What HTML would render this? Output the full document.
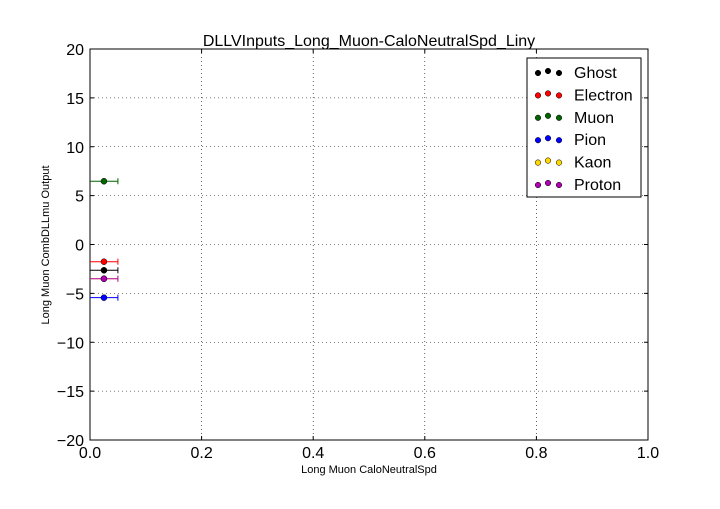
<!DOCTYPE html>
<html><head><meta charset="utf-8"><style>
body{margin:0;background:#fff;width:720px;height:504px;overflow:hidden}
svg{font-family:"Liberation Sans","DejaVu Sans",sans-serif}
</style></head><body>
<svg id="chart" width="720" height="504"></svg>
<script>
const series = ["Ghost","Electron","Muon","Pion","Kaon","Proton"];
const colors = ["#000000","#ff0000","#006400","#0000ff","#ffd700","#b000b0"];
const xValues = [0.025,0.025,0.025,0.025,0.025,0.025];
const xErr = [0.025,0.025,0.025,0.025,0.025,0.025];
const yValues = [-2.64,-1.76,6.47,-5.44,-3.5,-3.5];
const xTicks = [0,0.2,0.4,0.6,0.8,1.0];
const xTickLabels = ["0.0","0.2","0.4","0.6","0.8","1.0"];
const yTicks = [-20,-15,-10,-5,0,5,10,15,20];
const yTickLabels = ["\u221220","\u221215","\u221210","\u22125","0","5","10","15","20"];

const NS="http://www.w3.org/2000/svg";
const svg=document.getElementById('chart');
const L=90,R=648,T=49,B=440;
const xs=v=>L+(v-0)/(1-0)*(R-L);
const ys=v=>B-(v+20)/40*(B-T);
function mk(tag,attrs,parent){const e=document.createElementNS(NS,tag);for(const k in attrs)e.setAttribute(k,attrs[k]);(parent||svg).appendChild(e);return e;}

const grid=mk('g',{});


xTicks.forEach((t,i)=>{
  const x=xs(t);
  mk('line',{x1:x,x2:x,y1:T,y2:B,stroke:'#000','stroke-dasharray':'1,3','stroke-width':0.6},grid);
  mk('line',{x1:x,x2:x,y1:B,y2:B-4,stroke:'#000'},grid);
  mk('line',{x1:x,x2:x,y1:T,y2:T+4,stroke:'#000'},grid);
  const tx=mk('text',{x:x,y:B+18,'text-anchor':'middle','font-size':16});
  tx.textContent=xTickLabels[i];
  
  
});
yTicks.forEach((t,i)=>{
  const y=ys(t);
  mk('line',{x1:L,x2:R,y1:y,y2:y,stroke:'#000','stroke-dasharray':'1,3','stroke-width':0.6},grid);
  mk('line',{x1:L,x2:L+4,y1:y,y2:y,stroke:'#000'},grid);
  mk('line',{x1:R,x2:R-4,y1:y,y2:y,stroke:'#000'},grid);
  const tx=mk('text',{x:L-6,y:y+6,'text-anchor':'end','font-size':16});
  tx.textContent=yTickLabels[i];
  
  
});
const frame=mk('rect',{x:L,y:T,width:R-L,height:B-T,fill:'none',stroke:'#000'});



series.forEach((s,i)=>{
  const g=mk('g',{});
  
  
  const x=xs(xValues[i]),y=ys(yValues[i]);
  const x0=xs(xValues[i]-xErr[i]),x1=xs(xValues[i]+xErr[i]);
  mk('line',{x1:x0,x2:x1,y1:y,y2:y,stroke:colors[i]},g);
  mk('line',{x1:x1,x2:x1,y1:y-3,y2:y+3,stroke:colors[i]},g);
  mk('circle',{cx:x,cy:y,r:3,fill:colors[i],stroke:'#000','stroke-width':0.5},g);
});

const title=mk('text',{x:369,y:46,'text-anchor':'middle','font-size':16});
title.textContent='DLLVInputs_Long_Muon-CaloNeutralSpd_Liny';


const xl=mk('text',{x:369,y:473,'text-anchor':'middle','font-size':11});
xl.textContent='Long Muon CaloNeutralSpd';


const yl=mk('text',{x:49,y:245,'text-anchor':'middle','font-size':11,transform:'rotate(-90 49 245)'});
yl.textContent='Long Muon CombDLLmu Output';



const leg=mk('g',{});


mk('rect',{x:527,y:58,width:114,height:139,fill:'#fff',stroke:'#000'},leg);
series.forEach((s,i)=>{
  const e=mk('g',{},leg);
  
  
  const y=72+i*22.4;
  [538,548,559].forEach((cx,k)=>mk('circle',{cx:cx,cy:y+(k==1?-1:1),r:2.8,fill:colors[i],stroke:'#000','stroke-width':0.5},e));
  const t=mk('text',{x:574,y:y+6,'font-size':16},e);
  t.textContent=s;
});
</script>
</body></html>
